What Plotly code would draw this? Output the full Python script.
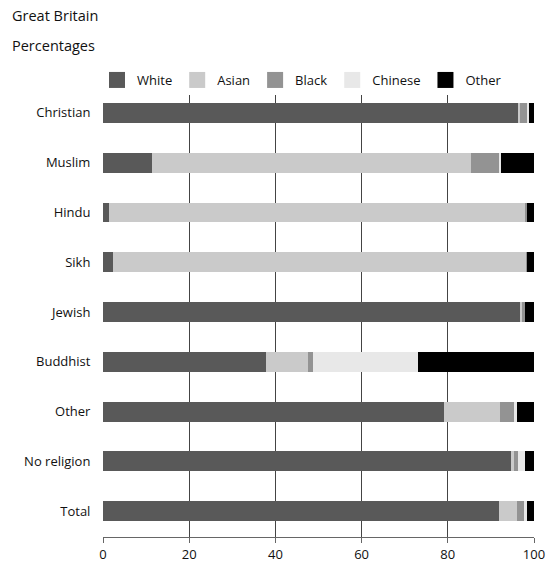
import plotly.graph_objects as go

categories = ["Christian", "Muslim", "Hindu", "Sikh", "Jewish", "Buddhist", "Other", "No religion", "Total"]
series_names = ["White", "Asian", "Black", "Chinese", "Other"]
white = [96.3, 11.3, 1.3, 2.3, 96.8, 37.9, 79.1, 94.6, 91.9]
asian = [0.4, 74.0, 96.7, 95.9, 0.6, 9.6, 13.0, 0.7, 4.1]
black = [1.9, 6.8, 0.4, 0.1, 0.4, 1.2, 3.2, 0.9, 1.9]
chinese = [0.2, 0.2, 0.0, 0.0, 0.0, 24.4, 0.7, 1.6, 0.4]
other = [1.2, 7.7, 1.6, 1.7, 2.2, 26.9, 4.0, 2.1, 1.6]
x_ticks = [0, 20, 40, 60, 80, 100]

values = [white, asian, black, chinese, other]
colors = ["#595959", "#cacaca", "#939393", "#e8e8e8", "#000000"]

FONT = "Open Sans"
W, H = 555, 562
PW, PH = 431, 445

fig = go.Figure()
for name, vals, col in zip(series_names, values, colors):
    fig.add_trace(go.Bar(
        y=categories, x=vals, name=name, orientation="h",
        marker=dict(color=col, line=dict(width=0)),
        width=0.4, showlegend=False,
    ))
    fig.add_trace(go.Scatter(
        x=[None], y=[None], mode="markers", name=name,
        marker=dict(symbol="square", size=18, color=col),
        showlegend=True,
    ))

fig.update_layout(
    width=W, height=H,
    barmode="stack",
    plot_bgcolor="white", paper_bgcolor="white",
    margin=dict(l=103, r=21, t=92, b=25, autoexpand=False),
    font=dict(family=FONT, size=13, color="#111"),
    legend=dict(
        orientation="h", xref="container", yref="container",
        x=97 / W, y=(H - 95) / H, xanchor="left", yanchor="bottom",
        font=dict(family=FONT, size=13, color="#111"),
        itemsizing="trace", traceorder="normal",
    ),
    annotations=[
        dict(text="Great Britain", xref="paper", yref="paper", x=-93 / PW, y=1 + 77 / PH,
             xanchor="left", yanchor="middle", showarrow=False,
             font=dict(family=FONT, size=14.5, color="#111")),
        dict(text="Percentages", xref="paper", yref="paper", x=-93 / PW, y=1 + 47 / PH,
             xanchor="left", yanchor="middle", showarrow=False,
             font=dict(family=FONT, size=14.5, color="#111")),
    ],
)

fig.update_xaxes(
    range=[0, 100], tickvals=x_ticks, ticktext=[str(v) for v in x_ticks],
    showgrid=True, gridcolor="#444", gridwidth=1,
    zeroline=False, showline=True, linecolor="#666", linewidth=1,
    ticks="outside", ticklen=5, tickcolor="#666",
    tickfont=dict(family=FONT, size=13, color="#111"),
    fixedrange=True, automargin=False,
)
fig.update_yaxes(
    categoryorder="array", categoryarray=categories,
    range=[8.52, -0.42], showgrid=False, zeroline=False, showline=False,
    ticks="outside", ticklen=9, tickcolor="rgba(0,0,0,0)",
    tickfont=dict(family=FONT, size=13, color="#111"),
    fixedrange=True, automargin=False,
)

fig.write_html(
    "out.html",
    config={"displayModeBar": False},
    post_script="document.body.style.margin='0';document.body.style.overflow='hidden';",
)
